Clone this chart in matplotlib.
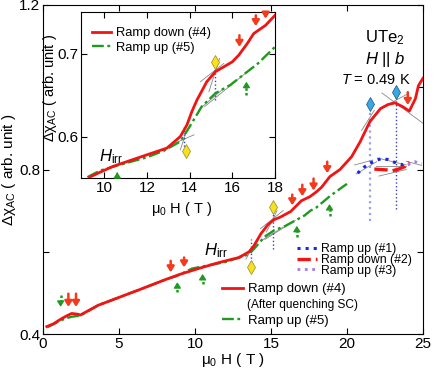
import numpy as np
import matplotlib
matplotlib.use("Agg")
import matplotlib.pyplot as plt

plt.rcParams['font.family'] = ['Liberation Sans', 'DejaVu Sans']
plt.rcParams['mathtext.fontset'] = 'custom'
plt.rcParams['mathtext.rm'] = 'Liberation Sans'
plt.rcParams['mathtext.it'] = 'Liberation Sans:italic'
plt.rcParams['mathtext.bf'] = 'Liberation Sans:bold'

RED = '#f01414'
GREEN = '#1f9a1f'
BLUE = '#1428e6'
PURPLE = '#a47ce8'
ARED = '#f5391c'

# ---- main panel data ----
down4_x = [0.25, 0.7, 1.12, 1.5, 1.89, 2.32, 2.45, 3.64, 5.0, 6.5, 8.1, 9.0, 10.3, 11.6,
           12.9, 13.56, 13.87, 14.34, 14.8, 15.2, 15.6, 16.3, 17.0, 17.56, 18.0, 18.33,
           18.88, 19.54, 20.3, 20.86, 21.5, 22.2, 22.7, 23.16, 23.7, 24.1, 24.5, 24.7, 24.9, 25.0]
down4_y = [0.418, 0.425, 0.435, 0.443, 0.450, 0.448, 0.446, 0.470, 0.489, 0.510, 0.533, 0.545,
           0.560, 0.574, 0.586, 0.600, 0.614, 0.644, 0.666, 0.678, 0.684, 0.698, 0.724, 0.734,
           0.746, 0.757, 0.783, 0.800, 0.831, 0.867, 0.916, 0.948, 0.958, 0.962, 0.952, 0.942,
           0.972, 1.004, 1.016, 1.022]

up5_x = [0.3, 0.7, 1.1, 1.5, 1.89, 2.3, 2.6, 3.64, 5.0, 6.5, 8.1, 8.8, 9.8, 10.6, 12.0, 13.56,
         14.0, 14.56, 15.2, 15.9, 16.6, 17.2, 17.6, 18.0, 18.9, 19.8, 20.0]
up5_y = [0.417, 0.424, 0.432, 0.438, 0.442, 0.444, 0.448, 0.470, 0.489, 0.510, 0.533, 0.541,
         0.559, 0.565, 0.575, 0.594, 0.612, 0.636, 0.652, 0.662, 0.676, 0.688, 0.700, 0.708,
         0.736, 0.760, 0.765]

up1_x = [20.7, 21.1, 21.5, 21.9, 22.3, 22.7, 23.0, 23.4, 23.7, 23.9]
up1_y = [0.791, 0.805, 0.815, 0.822, 0.827, 0.824, 0.819, 0.814, 0.811, 0.814]

down2_x = [21.8, 22.2, 22.6, 23.0, 23.4, 23.8, 24.1]
down2_y = [0.801, 0.800, 0.799, 0.797, 0.801, 0.807, 0.818]

up3_x = [24.0, 24.25, 24.5, 24.7, 24.9]
up3_y = [0.811, 0.816, 0.819, 0.814, 0.815]

# arrows: x, tail, tip
red_arrows = [(1.67, 0.498, 0.466), (2.17, 0.498, 0.466), (8.4, 0.578, 0.550),
              (9.28, 0.586, 0.562), (16.4, 0.739, 0.713), (17.06, 0.763, 0.735),
              (17.8, 0.778, 0.749), (18.7, 0.819, 0.791), (24.0, 0.988, 0.957)]
green_arrows = [(1.16, 0.494, 0.466), (8.84, 0.502, 0.526), (10.5, 0.522, 0.546),
                (16.7, 0.635, 0.663), (18.85, 0.687, 0.716)]

yellow_marks = [(13.66, 0.564), (15.1, 0.708)]
blue_marks = [(21.5, 0.960), (23.2, 0.988)]
vlines_main = [(13.66, 0.574, 0.631, '#3344cc'), (15.1, 0.607, 0.699, '#3344cc'),
               (21.5, 0.675, 0.950, '#9aa0e8'), (23.2, 0.703, 0.978, '#3344aa')]
tangents_main = [((12.9, 13.9), (0.589, 0.606)), ((13.35, 13.95), (0.582, 0.622)),
                 ((14.3, 15.8), (0.656, 0.700)), ((14.7, 15.4), (0.648, 0.700)),
                 ((14.4, 15.8), (0.628, 0.660)), ((14.6, 16.6), (0.630, 0.676)),
                 ((20.96, 21.8), (0.895, 0.944)), ((22.3, 25.2), (0.986, 0.907)),
                 ((22.4, 24.0), (0.952, 0.984)),
                 ((20.6, 21.95), (0.789, 0.819)), ((20.5, 21.7), (0.811, 0.823)),
                 ((22.0, 23.9), (0.828, 0.811)), ((21.9, 23.9), (0.808, 0.808)),
                 ((22.1, 23.9), (0.784, 0.800)), ((23.9, 24.9), (0.820, 0.810))]

# ---- inset data ----
in_down4_x = [9.3, 9.8, 10.4, 11.2, 12.0, 12.93, 13.56, 13.87, 14.1, 14.34, 14.8, 15.2, 15.6,
              16.0, 16.3, 16.7, 17.0, 17.56, 18.0]
in_down4_y = [0.551, 0.557, 0.564, 0.571, 0.578, 0.586, 0.600, 0.614, 0.630, 0.644, 0.666,
              0.678, 0.684, 0.690, 0.698, 0.712, 0.724, 0.734, 0.746]
in_up5_x = [9.2, 9.8, 10.6, 11.3, 12.0, 12.8, 13.56, 14.0, 14.56, 15.2, 15.9, 16.6, 17.2, 18.0]
in_up5_y = [0.551, 0.559, 0.565, 0.570, 0.575, 0.583, 0.594, 0.612, 0.636, 0.652, 0.662,
            0.676, 0.688, 0.708]
in_red_arrows = [(16.33, 0.722, 0.708), (17.1, 0.746, 0.733), (17.56, 0.750, 0.742)]
in_green_arrows = [(10.6, 0.551, 0.557), (16.66, 0.650, 0.666)]
in_yellow = [(13.83, 0.582), (15.2, 0.690)]
in_vlines = [(13.74, 0.584, 0.614), (15.2, 0.644, 0.682)]
in_tangents = [((13.3, 14.2), (0.592, 0.602)), ((13.56, 13.87), (0.584, 0.608)),
               ((14.5, 15.6), (0.666, 0.688)), ((14.9, 15.4), (0.654, 0.694)),
               ((14.5, 15.6), (0.634, 0.658)), ((14.7, 16.7), (0.636, 0.678))]

HEAD = '-|>,head_length=0.55,head_width=0.35'


def draw_arrows(ax, arrows, color, dotted=False):
    for x, tail, tip in arrows:
        if dotted:
            # dotted shaft + solid head
            mid = tip - 0.3 * (tip - tail)
            ax.plot([x, x], [tail, mid], color=color, lw=1.8, ls=(0, (1, 0.9)), zorder=6)
            ax.annotate('', xy=(x, tip), xytext=(x, mid),
                        arrowprops=dict(arrowstyle=HEAD, color=color, lw=1.0,
                                        mutation_scale=6, shrinkA=0, shrinkB=0))
        else:
            ax.annotate('', xy=(x, tip), xytext=(x, tail),
                        arrowprops=dict(arrowstyle=HEAD, color=color, lw=1.8,
                                        mutation_scale=6, shrinkA=0, shrinkB=0))


fig = plt.figure(figsize=(4.36, 3.68), dpi=100)
ax = fig.add_axes([43 / 436, 34 / 368, 380 / 436, 329 / 368])

for (xs, ys) in tangents_main:
    ax.plot(xs, ys, color='#888888', lw=0.6, zorder=1)
for x, y0, y1, c in vlines_main:
    ax.plot([x, x], [y0, y1], color=c, lw=1.0 if c != '#9aa0e8' else 1.6, ls=':', zorder=1)

l1, = ax.plot(up1_x, up1_y, color=BLUE, ls=':', lw=2.2, label='Ramp up (#1)', zorder=3)
l2, = ax.plot(down2_x, down2_y, color=RED, ls=(0, (4, 1.5)), lw=2.4, label='Ramp down (#2)', zorder=3)
l3, = ax.plot(up3_x, up3_y, color=PURPLE, ls=':', lw=2.0, label='Ramp up (#3)', zorder=3)
l5, = ax.plot(up5_x, up5_y, color=GREEN, ls=(0, (5, 1.5, 1.2, 1.5)), lw=1.7, label='Ramp up (#5)', zorder=4)
l4, = ax.plot(down4_x, down4_y, color=RED, lw=2.0, label='Ramp down (#4)', zorder=5)

draw_arrows(ax, red_arrows, ARED)
draw_arrows(ax, green_arrows, GREEN, dotted=True)

for x, y in yellow_marks:
    ax.plot(x, y, marker='d', ms=7, mfc='#f6e020', mec='#9a8a10', mew=0.5, zorder=6)
for x, y in blue_marks:
    ax.plot(x, y, marker='d', ms=7, mfc='#3aa8e0', mec='#205080', mew=0.5, zorder=6)

ax.set_xlim(0, 25)
ax.set_ylim(0.4, 1.2)
ax.set_xticks([0, 5, 10, 15, 20, 25])
ax.set_yticks([0.4, 0.6, 0.8, 1.0, 1.2])
ax.set_yticklabels(['0.4', '', '0.8', '', '1.2'])
ax.tick_params(direction='in', top=True, right=True, labelsize=11, length=4, pad=2)
ax.set_xlabel('μ$_0$ H ( T )', fontsize=11, labelpad=0)
ax.set_ylabel('Δχ$_{\\rm AC}$ ( arb. unit )', fontsize=11, labelpad=0)
ax.yaxis.set_label_coords(-0.066, 0.5)

ax.text(22.5, 1.12, 'UTe$_2$', fontsize=12, ha='center', va='center')
ax.text(22.5, 1.067, '$H$ || $b$', fontsize=12, ha='center', va='center')
ax.text(21.9, 1.017, '$T$ = 0.49 K', fontsize=10.5, ha='center', va='center')
ax.text(11.4, 0.602, '$H_{\\rm irr}$', fontsize=12, ha='center', va='center')

leg1 = ax.legend(handles=[l1, l2, l3], loc='upper left', frameon=False, fontsize=8.8,
                 bbox_to_anchor=(297 / 436, 1 - 243 / 368), bbox_transform=fig.transFigure,
                 borderpad=0, borderaxespad=0, handlelength=1.6, handletextpad=0.4,
                 labelspacing=-0.1)
ax.add_artist(leg1)
ax.legend(handles=[l4, l5], loc='upper left', frameon=False, fontsize=9.5,
          bbox_to_anchor=(222 / 436, 1 - 283 / 368), bbox_transform=fig.transFigure,
          borderpad=0, borderaxespad=0, handlelength=1.6, handletextpad=0.4,
          labelspacing=1.45)
fig.text(247 / 436, 1 - 305 / 368, '(After quenching SC)', fontsize=8.6, va='center')

# ---- inset ----
ins = fig.add_axes([81 / 436, 190 / 368, 194 / 436, 166 / 368])
for (xs, ys) in in_tangents:
    ins.plot(xs, ys, color='#888888', lw=0.6, zorder=1)
for x, y0, y1 in in_vlines:
    ins.plot([x, x], [y0, y1], color='#3344cc', lw=1.0, ls=':', zorder=1)
i5, = ins.plot(in_up5_x, in_up5_y, color=GREEN, ls=(0, (5, 1.5, 1.2, 1.5)), lw=1.7,
               label='Ramp up (#5)', zorder=3)
i4, = ins.plot(in_down4_x, in_down4_y, color=RED, lw=2.0, label='Ramp down (#4)', zorder=4)
draw_arrows(ins, in_red_arrows, ARED)
draw_arrows(ins, in_green_arrows, GREEN, dotted=True)
for x, y in in_yellow:
    ins.plot(x, y, marker='d', ms=7, mfc='#f6e020', mec='#9a8a10', mew=0.5, zorder=6)
ins.set_xlim(8.9, 18)
ins.set_ylim(0.55, 0.75)
ins.set_xticks([10, 12, 14, 16, 18])
ins.set_yticks([0.6, 0.7])
ins.tick_params(direction='in', top=True, right=True, labelsize=11, length=4, pad=2)
ins.set_xlabel('μ$_0$ H ( T )', fontsize=10.5, labelpad=0)
ins.set_ylabel('Δχ$_{\\rm AC}$ ( arb. unit )', fontsize=10.5, labelpad=0)
ins.xaxis.set_label_coords(0.52, -0.13)
ins.yaxis.set_label_coords(-0.115, 0.54)
ins.text(10.3, 0.576, '$H_{\\rm irr}$', fontsize=12, ha='center', va='center')
ins.legend(handles=[i4, i5], loc='upper left', frameon=False, fontsize=9.3,
           bbox_to_anchor=(92 / 436, 1 - 27 / 368), bbox_transform=fig.transFigure,
           borderpad=0, borderaxespad=0, handlelength=1.5, handletextpad=0.35,
           labelspacing=0.2)

fig.savefig('out.png', dpi=100)
